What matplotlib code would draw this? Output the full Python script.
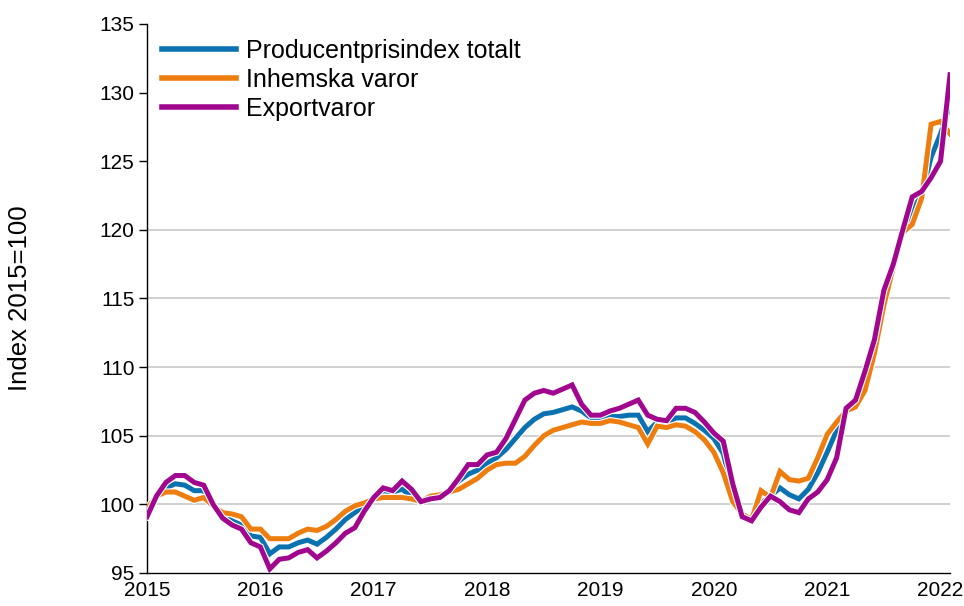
import matplotlib
matplotlib.use("Agg")
import matplotlib.pyplot as plt
import matplotlib.patheffects as pe
import numpy as np

# ---- data (monthly, Jan 2015 - Feb 2022) ----
total = [
    99.5, 100.6, 101.2, 101.5, 101.4, 101.0, 101.0, 100.0, 99.2, 98.8, 98.5, 97.7,
    97.6, 96.4, 96.9, 96.9, 97.2, 97.4, 97.1, 97.6, 98.2, 98.9, 99.4, 99.9,
    100.5, 101.0, 100.9, 101.1, 100.6, 100.2, 100.5, 100.7, 101.0, 101.7, 102.2, 102.5,
    103.0, 103.4, 104.0, 104.8, 105.6, 106.2, 106.6, 106.7, 106.9, 107.1, 106.8, 106.3,
    106.2, 106.4, 106.4, 106.5, 106.5, 105.3, 106.0, 105.9, 106.3, 106.3, 105.9, 105.4,
    104.8, 103.7, 100.9, 99.1, 98.9, 100.1, 100.6, 101.2, 100.7, 100.4, 101.1, 102.3,
    103.8, 105.4, 106.9, 107.4, 109.0, 111.7, 115.2, 117.3, 119.8, 121.5, 122.5, 125.3,
    127.0, 129.1,
]
domestic = [
    99.7, 100.6, 100.9, 100.9, 100.6, 100.3, 100.5, 99.9, 99.4, 99.3, 99.1, 98.2,
    98.2, 97.5, 97.5, 97.5, 97.9, 98.2, 98.1, 98.4, 98.9, 99.5, 99.9, 100.1,
    100.4, 100.5, 100.5, 100.5, 100.4, 100.2, 100.6, 100.7, 100.9, 101.1, 101.5, 101.9,
    102.5, 102.9, 103.0, 103.0, 103.5, 104.3, 105.0, 105.4, 105.6, 105.8, 106.0, 105.9,
    105.9, 106.1, 106.0, 105.8, 105.6, 104.4, 105.7, 105.6, 105.8, 105.7, 105.3, 104.7,
    103.8, 102.3, 100.2, 99.3, 98.9, 101.0, 100.5, 102.4, 101.8, 101.7, 101.9, 103.4,
    105.1, 106.0, 106.8, 107.1, 108.3, 111.0, 114.5, 117.3, 119.8, 120.4, 122.3, 127.7,
    127.9, 127.0,
]
export = [
    99.1, 100.6, 101.6, 102.1, 102.1, 101.6, 101.4, 100.0, 99.0, 98.5, 98.2, 97.2,
    96.9, 95.3, 96.0, 96.1, 96.5, 96.7, 96.1, 96.6, 97.2, 97.9, 98.3, 99.5,
    100.5, 101.2, 101.0, 101.7, 101.1, 100.2, 100.4, 100.5, 101.0, 101.9, 102.9, 102.9,
    103.6, 103.8, 104.8, 106.2, 107.6, 108.1, 108.3, 108.1, 108.4, 108.7, 107.3, 106.5,
    106.5, 106.8, 107.0, 107.3, 107.6, 106.5, 106.2, 106.1, 107.0, 107.0, 106.7, 106.0,
    105.2, 104.6, 101.5, 99.1, 98.8, 99.8, 100.6, 100.2, 99.6, 99.4, 100.4, 100.9,
    101.8, 103.4, 107.0, 107.6, 109.7, 112.0, 115.6, 117.5, 120.0, 122.4, 122.8, 123.8,
    125.0, 131.3,
]
series_names = ["Producentprisindex totalt", "Inhemska varor", "Exportvaror"]
series_colors = ["#0a72b0", "#ee7d0f", "#a1068e"]
year_ticks = [2015, 2016, 2017, 2018, 2019, 2020, 2021, 2022]
y_ticks = [95, 100, 105, 110, 115, 120, 125, 130, 135]
grid_values = [100, 105, 110, 115, 120]
y_label = "Index 2015=100"

n = len(total)
x = 2015 + np.arange(n) / 12.0

plt.rcParams["font.family"] = ["Liberation Sans", "DejaVu Sans"]

fig = plt.figure(figsize=(9.64, 6.06), dpi=100)
ax = fig.add_axes([147 / 964, 1 - 573 / 606, (950 - 147) / 964, (573 - 24) / 606])

for g in grid_values:
    ax.axhline(g, color="#c8c8c8", lw=1.2, zorder=1)

lw = 3.6
for vals, name, col in zip([total, domestic, export], series_names, series_colors):
    ax.plot(x, vals, color=col, lw=lw, label=name, zorder=3,
            solid_joinstyle="miter",
            path_effects=[pe.Stroke(linewidth=lw + 1.6, foreground="white"), pe.Normal()])

ax.set_xlim(x[0], x[-1])
ax.set_ylim(95, 135)
ax.set_xticks(year_ticks)
ax.set_xticklabels([str(y) for y in year_ticks])
ax.set_yticks(y_ticks)

for s in ["top", "right"]:
    ax.spines[s].set_visible(False)
for s in ["left", "bottom"]:
    ax.spines[s].set_color("black")
    ax.spines[s].set_linewidth(1.0)

ax.tick_params(axis="y", length=6, width=1, labelsize=15, pad=3, colors="black")
ax.tick_params(axis="x", length=0, labelsize=15, pad=6, colors="black")

ax.set_ylabel(y_label, fontsize=18.5)
ax.yaxis.set_label_coords(-0.143, 0.5)

leg = ax.legend(loc="upper left", bbox_to_anchor=(0.0, 1.0), frameon=False,
                fontsize=18, handlelength=2.95, handletextpad=0.42,
                labelspacing=0.2, borderaxespad=0.3, borderpad=0.3)
for h in leg.get_lines():
    h.set_linewidth(4)
    h.set_path_effects([])

fig.savefig("out.png", dpi=100)
